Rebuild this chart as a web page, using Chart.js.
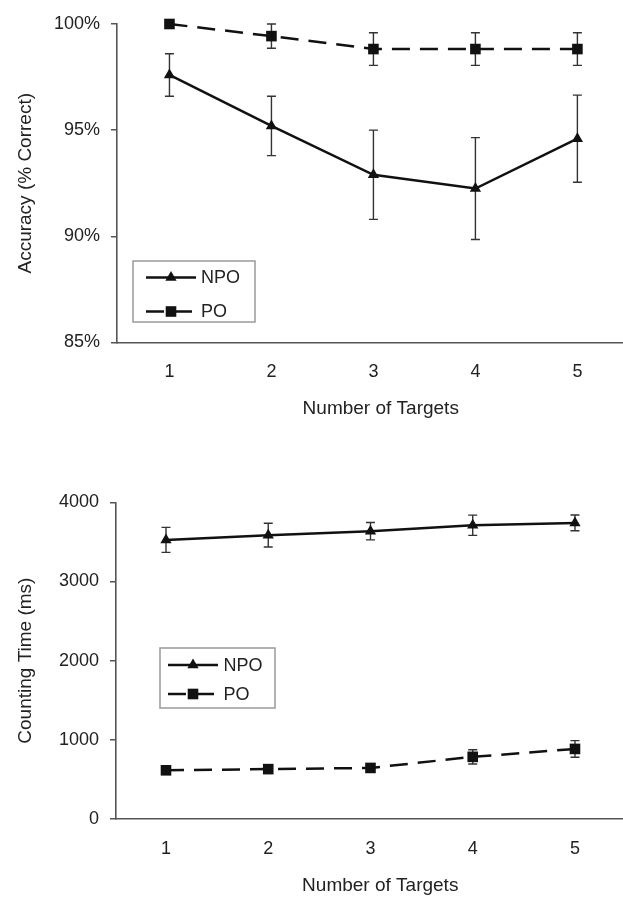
<!DOCTYPE html>
<html>
<head>
<meta charset="utf-8">
<script src="https://cdn.jsdelivr.net/npm/chart.js@4/dist/chart.umd.min.js"></script>
<style>
  html, body { margin: 0; padding: 0; background: #fff; overflow: hidden; width: 623px; height: 897px; }
  .box { position: absolute; left: 0; width: 652px; }
  #top { top: 0; height: 440px; }
  #bottom { top: 440px; height: 457px; }
</style>
</head>
<body>
<div class="box" id="top"><canvas id="c1"></canvas></div>
<div class="box" id="bottom"><canvas id="c2"></canvas></div>
<script>
// ---- data ----
const targets = [1, 2, 3, 4, 5];
const seriesNames = ['NPO', 'PO'];

const accNPO    = [97.6, 95.2, 92.9, 92.25, 94.6];
const accNPOErr = [1.0, 1.4, 2.1, 2.4, 2.05];
const accPO     = [100, 99.43, 98.82, 98.82, 98.82];
const accPOErr  = [0, 0.57, 0.77, 0.77, 0.77];

const timeNPO    = [3525, 3585, 3635, 3710, 3740];
const timeNPOErr = [158, 150, 110, 128, 100];
const timePO     = [615, 630, 645, 785, 885];
const timePOErr  = [20, 20, 20, 90, 105];

const accTicks  = [85, 90, 95, 100];
const timeTicks = [0, 1000, 2000, 3000, 4000];

const xTitle = 'Number of Targets';
const accTitle = 'Accuracy (% Correct)';
const timeTitle = 'Counting Time (ms)';

// ---- styling ----
const FONT = '"Liberation Sans", Arial, Helvetica, sans-serif';
const TEXT = '#222';
const AXIS = '#555';
Chart.defaults.font.family = FONT;
Chart.defaults.color = TEXT;
Chart.defaults.animation = false;

const toXY = (arr) => arr.map((v, i) => ({ x: targets[i], y: v }));

function drawMarker(ctx, style, r, x, y) {
  ctx.beginPath();
  if (style === 'triangle') {
    const a = -Math.PI / 2;
    for (let k = 0; k < 3; k++) {
      const ang = a + k * 2 * Math.PI / 3;
      const px = x + Math.cos(ang) * r, py = y + Math.sin(ang) * r;
      if (k === 0) ctx.moveTo(px, py); else ctx.lineTo(px, py);
    }
    ctx.closePath();
  } else {
    const s = Math.SQRT1_2 * r;
    ctx.rect(x - s, y - s, 2 * s, 2 * s);
  }
  ctx.fill();
}

const errorBars = {
  id: 'errorBars',
  beforeDatasetsDraw(chart) {
    const ctx = chart.ctx;
    const ys = chart.scales.y;
    ctx.save();
    ctx.strokeStyle = '#333';
    ctx.lineWidth = 1.4;
    chart.data.datasets.forEach((ds, di) => {
      const meta = chart.getDatasetMeta(di);
      (ds.errors || []).forEach((e, i) => {
        if (!e) return;
        const p = meta.data[i];
        const v = ds.data[i].y;
        const yt = ys.getPixelForValue(v + e);
        const yb = ys.getPixelForValue(v - e);
        ctx.beginPath();
        ctx.moveTo(p.x, yt); ctx.lineTo(p.x, yb);
        ctx.moveTo(p.x - 4.5, yt); ctx.lineTo(p.x + 4.5, yt);
        ctx.moveTo(p.x - 4.5, yb); ctx.lineTo(p.x + 4.5, yb);
        ctx.stroke();
      });
    });
    ctx.restore();
  }
};

const boxLegend = {
  id: 'boxLegend',
  afterDraw(chart, args, o) {
    const ctx = chart.ctx;
    ctx.save();
    ctx.strokeStyle = '#9a9a9a';
    ctx.lineWidth = 1.5;
    ctx.strokeRect(o.x, o.y, o.w, o.h);
    chart.data.datasets.forEach((ds, i) => {
      const cy = o.y + o.rows[i];
      const x0 = o.x + o.sampleX, x1 = x0 + o.sampleW;
      ctx.beginPath();
      ctx.setLineDash(ds.borderDash || []);
      ctx.strokeStyle = ds.borderColor;
      ctx.lineWidth = ds.borderWidth;
      ctx.moveTo(x0, cy); ctx.lineTo(x1, cy);
      ctx.stroke();
      ctx.setLineDash([]);
      ctx.fillStyle = ds.pointBackgroundColor;
      drawMarker(ctx, ds.pointStyle, ds.pointRadius, (x0 + x1) / 2, cy);
      ctx.fillStyle = TEXT;
      ctx.font = '18px ' + FONT;
      ctx.textBaseline = 'middle';
      ctx.textAlign = 'left';
      ctx.fillText(ds.label, o.x + o.textX, cy + 1);
    });
    ctx.restore();
  }
};

function lineDs(label, data, errs, style, dashed) {
  return {
    label, data: toXY(data), errors: errs,
    borderColor: '#111', borderWidth: 2.5, borderDash: dashed ? [18, 10] : [],
    pointStyle: style, pointRadius: style === 'triangle' ? 6.5 : 7.5,
    pointBackgroundColor: '#111', pointBorderWidth: 0, pointHoverRadius: 7.5,
    tension: 0, clip: false, fill: false
  };
}

function makeChart(id, cfg) {
  return new Chart(document.getElementById(id), {
    type: 'line',
    data: { datasets: cfg.datasets },
    plugins: [errorBars, boxLegend],
    options: {
      responsive: true,
      maintainAspectRatio: false,
      events: [],
      layout: { padding: { top: cfg.padTop, left: 0, right: 0, bottom: 0 } },
      plugins: { legend: { display: false }, tooltip: { enabled: false }, boxLegend: cfg.legend },
      scales: {
        x: {
          type: 'linear', min: cfg.xmin, max: cfg.xmax,
          afterBuildTicks: (s) => { s.ticks = targets.map(v => ({ value: v })); },
          afterFit: (s) => { s.height = cfg.xHeight; },
          ticks: { font: { size: 18 }, color: TEXT, padding: 19, callback: (v) => String(v) },
          grid: { display: true, drawOnChartArea: false, drawTicks: false, tickLength: 0 },
          border: { display: true, color: AXIS, width: 1.6 },
          title: { display: true, text: xTitle, font: { size: 19 }, color: TEXT, padding: { top: 0, bottom: cfg.xTitlePad } }
        },
        y: {
          min: cfg.ymin, max: cfg.ymax,
          afterBuildTicks: (s) => { s.ticks = cfg.yTicks.map(v => ({ value: v })); },
          afterFit: (s) => { s.width = cfg.yWidth; },
          ticks: { font: { size: 18 }, color: TEXT, padding: 11, callback: cfg.yFmt },
          grid: { display: true, drawOnChartArea: false, drawTicks: true, tickLength: 6, color: AXIS, lineWidth: 1.5 },
          border: { display: true, color: AXIS, width: 1.6 },
          title: { display: true, text: cfg.yTitle, font: { size: 19 }, color: TEXT, padding: { top: 14, bottom: 0 } }
        }
      }
    }
  });
}

makeChart('c1', {
  datasets: [
    lineDs(seriesNames[0], accNPO, accNPOErr, 'triangle', false),
    lineDs(seriesNames[1], accPO, accPOErr, 'rect', true)
  ],
  padTop: 24, xHeight: 97.5, xTitlePad: 20, yWidth: 117,
  xmin: 0.4856, xmax: 5.658,
  ymin: 85, ymax: 100, yTicks: accTicks, yFmt: (v) => v + '%', yTitle: accTitle,
  legend: { x: 133, y: 261, w: 122, h: 61, rows: [16.5, 50.5], sampleX: 13, sampleW: 50, textX: 68 }
});

makeChart('c2', {
  datasets: [
    lineDs(seriesNames[0], timeNPO, timeNPOErr, 'triangle', false),
    lineDs(seriesNames[1], timePO, timePOErr, 'rect', true)
  ],
  padTop: 62.3, xHeight: 78, xTitlePad: 0, yWidth: 116,
  xmin: 0.511, xmax: 5.68,
  ymin: 0, ymax: 4000, yTicks: timeTicks, yFmt: (v) => String(v), yTitle: timeTitle,
  legend: { x: 160, y: 208, w: 115, h: 60, rows: [17, 46], sampleX: 8, sampleW: 50, textX: 63.5 }
});
</script>
</body>
</html>
